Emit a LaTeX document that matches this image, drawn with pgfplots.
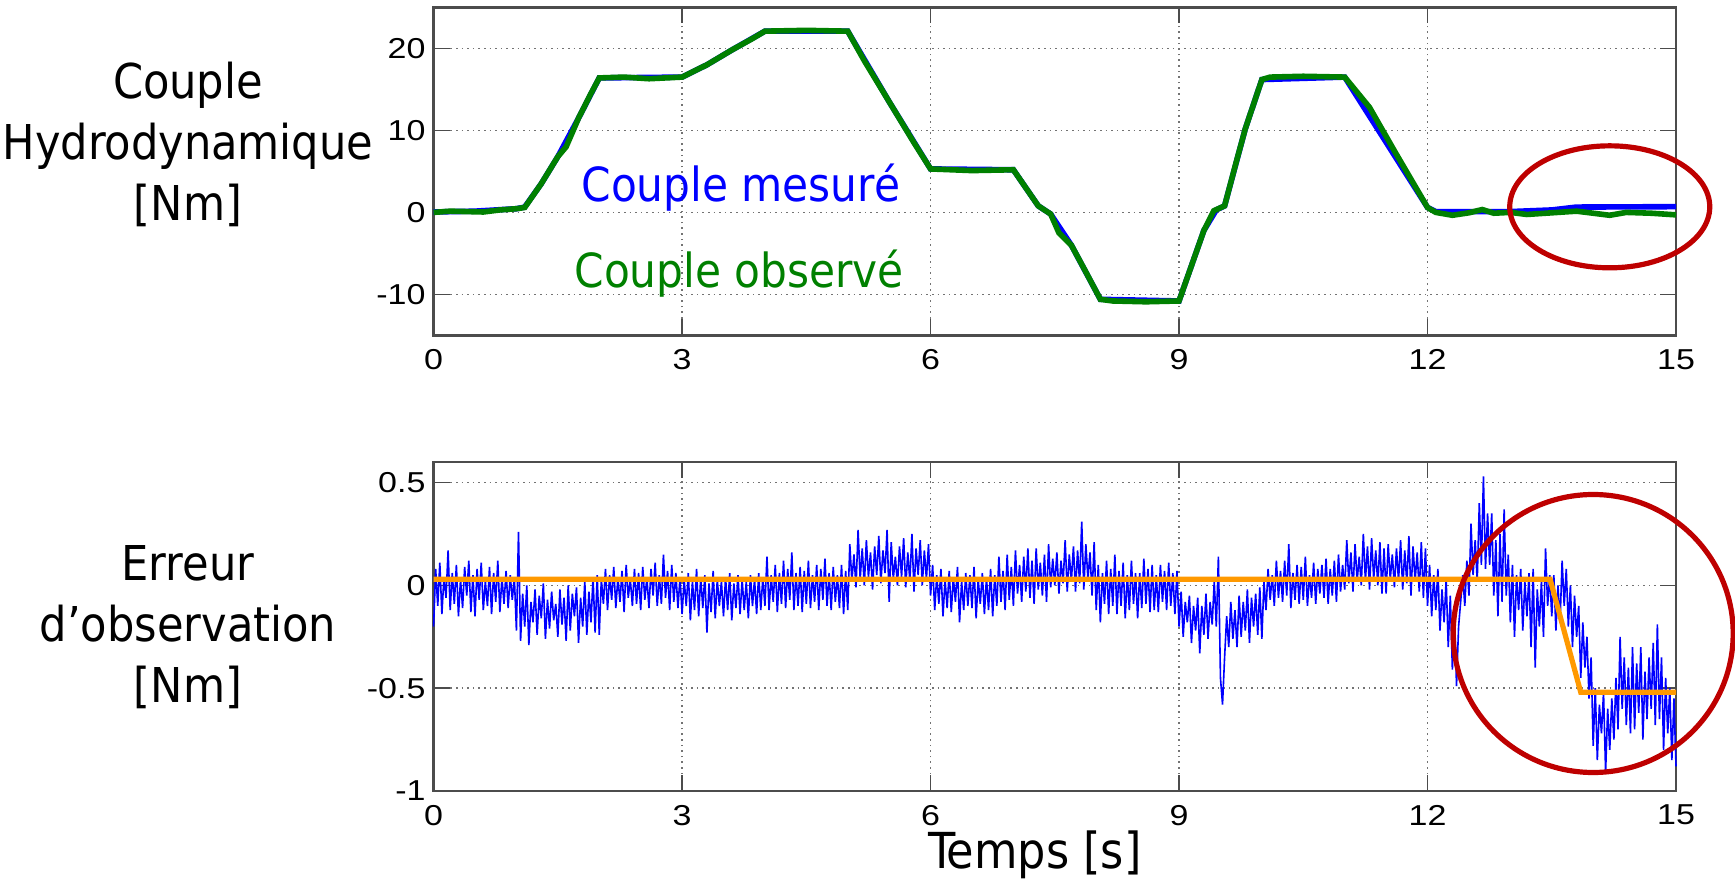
\documentclass[border=0pt]{standalone}
\usepackage{fontspec}
\setmainfont{DejaVu Sans Condensed}
\newfontfamily\ticksfont{Liberation Sans}
\usepackage{graphicx}
\usepackage{pgfplots}
\pgfplotsset{compat=1.18}

\definecolor{mblue}{RGB}{0,0,255}
\definecolor{mgreen}{RGB}{0,128,0}
\definecolor{morange}{RGB}{255,153,0}
\definecolor{mred}{RGB}{190,0,0}

\pgfplotsset{
  matlab/.style={
    scale only axis,
    width=310.6pt,
    xmin=0, xmax=15,
    xtick={0,3,6,9,12,15},
    grid=major,
    major grid style={densely dotted, black!55, line width=0.4pt},
    tick align=inside,
    major tick length=4pt,
    tick style={black!70, line width=0.4pt},
    axis line style={black!70, line width=0.6pt},
    tick label style={font=\fontsize{7.2}{9}\selectfont\ticksfont},
    xticklabel={\scalebox{1.18}[1]{\pgfmathprintnumber{\tick}}},
    yticklabel={\scalebox{1.18}[1]{\pgfmathprintnumber{\tick}}},
    yticklabel style={xshift=1.5pt},
    /pgf/number format/assume math mode=true,
    clip=false,
  }
}

\begin{document}
\begin{tikzpicture}
\path[use as bounding box] (0,0) rectangle (433.75pt,220.25pt);

\node[align=center, font=\fontsize{12}{15.25}\selectfont] at (47pt,184.25pt)
  {Couple\\Hydrodynamique\\{[Nm]}};
\node[align=center, font=\fontsize{12}{15.25}\selectfont] at (47pt,63.5pt)
  {Erreur\\d’observation\\{[Nm]}};

% couple hydrodynamique
\begin{axis}[matlab,
  at={(108.4pt,136.4pt)}, anchor=south west,
  height=82pt,
  ymin=-15, ymax=25,
  ytick={-10,0,10,20},
]
\addplot[mblue, line width=1.4pt] coordinates {
  (0,0.05) (0.5,0.15) (1.0,0.45) (1.1,0.65) (1.3,3.5) (1.5,6.8) (1.75,11.5)
  (2.0,16.4) (3.0,16.5) (3.3,18.0) (3.6,19.8) (4.0,22.1) (5.0,22.1)
  (5.5,13.5) (6.0,5.3) (7.0,5.2) (7.3,0.8) (7.45,-0.2) (7.7,-4.0)
  (8.05,-10.6) (9.0,-10.8) (9.3,-2.2) (9.45,0.3) (9.55,0.8) (9.8,10.2)
  (10.0,16.2) (11.0,16.5) (12.0,0.6) (12.1,0.1) (13.0,0.1) (13.5,0.3)
  (13.8,0.65) (15.0,0.7)
};
\addplot[mgreen, line width=1.4pt] coordinates {
  (0,0.0) (0.2,0.15) (0.4,0.1) (0.6,0.05) (0.8,0.3) (1.0,0.45) (1.1,0.6)
  (1.3,3.5) (1.5,6.8) (1.6,8.0) (1.75,11.5) (1.9,14.5) (2.0,16.4)
  (2.3,16.5) (2.6,16.3) (3.0,16.5) (3.3,18.0) (3.6,19.8) (3.85,21.2)
  (4.0,22.1) (4.5,22.2) (5.0,22.1) (5.2,18.5) (5.5,13.5) (5.8,8.5)
  (6.0,5.3) (6.5,5.1) (7.0,5.2) (7.15,3.0) (7.3,0.8) (7.45,-0.2)
  (7.55,-2.5) (7.7,-4.0) (7.85,-6.8) (8.05,-10.6) (8.2,-10.8)
  (8.6,-10.9) (9.0,-10.8) (9.15,-6.5) (9.3,-2.2) (9.42,0.2) (9.55,0.8)
  (9.7,6.5) (9.8,10.2) (10.0,16.2) (10.1,16.5) (10.5,16.6) (11.0,16.5)
  (11.3,12.8) (11.6,7.5) (12.0,0.6) (12.1,0.0) (12.3,-0.35) (12.5,-0.05)
  (12.66,0.35) (12.8,-0.1) (13.0,0.0) (13.2,-0.25) (13.5,-0.05)
  (13.8,0.15) (14.0,-0.1) (14.2,-0.35) (14.4,0.0) (14.7,-0.1) (15.0,-0.3)
};
\node[mblue, font=\fontsize{11.75}{14}\selectfont] at (axis cs:3.71,3.0) {Couple mesuré};
\node[mgreen, font=\fontsize{11.75}{14}\selectfont] at (axis cs:3.69,-7.5) {Couple observé};
\draw[mred, line width=1.3pt] (axis cs:14.2,0.68) ellipse [x radius=25pt, y radius=15.25pt];
\end{axis}

% erreur d'observation
\begin{axis}[matlab,
  at={(108.4pt,22.5pt)}, anchor=south west,
  height=82.25pt,
  ymin=-1, ymax=0.6,
  ytick={-1,-0.5,0,0.5},
  xlabel={Temps [s]},
  xlabel style={font=\fontsize{12.4}{14}\selectfont, at={(axis description cs:0.484,0)}, anchor=center, yshift=-16pt},
]
\addplot[mblue, line width=0.4pt] coordinates {
(0,-0.20)(0.025,0.08)(0.05,-0.10)(0.075,0.11)(0.1,-0.14)(0.125,0.04)(0.15,-0.06)(0.175,0.17)(0.2,-0.12)(0.225,0.06)
(0.25,-0.09)(0.275,0.10)(0.3,-0.15)(0.325,0.03)(0.35,-0.11)(0.375,0.09)(0.4,-0.05)(0.425,0.12)(0.45,-0.13)(0.475,0.05)
(0.5,-0.15)(0.525,0.08)(0.55,-0.07)(0.575,0.11)(0.6,-0.12)(0.625,0.02)(0.65,-0.10)(0.675,0.09)(0.7,-0.14)(0.725,0.06)
(0.75,-0.08)(0.775,0.12)(0.8,-0.13)(0.825,0.04)(0.85,-0.09)(0.875,0.07)(0.9,-0.11)(0.925,0.05)(0.95,-0.07)(0.975,0.04)
(1.0,-0.22)(1.025,0.26)(1.05,-0.27)(1.075,-0.04)(1.1,-0.20)(1.125,0.00)(1.15,-0.29)(1.175,-0.08)(1.2,-0.18)(1.225,-0.02)
(1.25,-0.24)(1.275,-0.05)(1.3,-0.16)(1.325,0.01)(1.35,-0.26)(1.375,-0.07)(1.4,-0.21)(1.425,-0.03)(1.45,-0.17)(1.475,-0.09)
(1.5,-0.25)(1.525,-0.02)(1.55,-0.19)(1.575,-0.06)(1.6,-0.27)(1.625,0.00)(1.65,-0.22)(1.675,-0.04)(1.7,-0.15)(1.725,-0.01)
(1.75,-0.28)(1.775,-0.06)(1.8,-0.20)(1.825,0.02)(1.85,-0.24)(1.875,-0.03)(1.9,-0.18)(1.925,0.04)(1.95,-0.23)(1.975,0.05)
(2.0,-0.24)(2.025,0.03)(2.05,-0.09)(2.075,0.08)(2.1,-0.12)(2.125,0.05)(2.15,-0.07)(2.175,0.09)(2.2,-0.11)(2.225,0.04)
(2.25,-0.08)(2.275,0.07)(2.3,-0.13)(2.325,0.10)(2.35,-0.06)(2.375,0.03)(2.4,-0.10)(2.425,0.08)(2.45,-0.09)(2.475,0.06)
(2.5,-0.12)(2.525,0.09)(2.55,-0.07)(2.575,0.04)(2.6,-0.11)(2.625,0.08)(2.65,-0.05)(2.675,0.11)(2.7,-0.10)(2.725,0.05)
(2.75,-0.09)(2.775,0.15)(2.8,-0.06)(2.825,0.07)(2.85,-0.12)(2.875,0.10)(2.9,-0.08)(2.925,0.06)(2.95,-0.11)(2.975,0.04)
(3.0,-0.14)(3.025,0.03)(3.05,-0.10)(3.075,0.06)(3.1,-0.17)(3.125,0.02)(3.15,-0.12)(3.175,0.08)(3.2,-0.15)(3.225,0.04)
(3.25,-0.11)(3.275,0.05)(3.3,-0.23)(3.325,0.01)(3.35,-0.13)(3.375,0.07)(3.4,-0.16)(3.425,0.03)(3.45,-0.10)(3.475,0.02)
(3.5,-0.15)(3.525,0.04)(3.55,-0.12)(3.575,0.06)(3.6,-0.17)(3.625,0.01)(3.65,-0.11)(3.675,0.05)(3.7,-0.14)(3.725,0.03)
(3.75,-0.12)(3.775,0.02)(3.8,-0.16)(3.825,0.05)(3.85,-0.10)(3.875,0.03)(3.9,-0.14)(3.925,0.06)(3.95,-0.12)(3.975,0.04)
(4.0,-0.10)(4.025,0.14)(4.05,-0.12)(4.075,0.05)(4.1,-0.08)(4.125,0.10)(4.15,-0.13)(4.175,0.06)(4.2,-0.09)(4.225,0.12)
(4.25,-0.11)(4.275,0.08)(4.3,-0.07)(4.325,0.16)(4.35,-0.12)(4.375,0.06)(4.4,-0.10)(4.425,0.09)(4.45,-0.13)(4.475,0.07)
(4.5,-0.09)(4.525,0.12)(4.55,-0.11)(4.575,0.05)(4.6,-0.08)(4.625,0.10)(4.65,-0.12)(4.675,0.08)(4.7,-0.07)(4.725,0.13)
(4.75,-0.10)(4.775,0.06)(4.8,-0.12)(4.825,0.09)(4.85,-0.08)(4.875,0.05)(4.9,-0.11)(4.925,0.10)(4.95,-0.14)(4.975,0.07)
(5.0,-0.12)(5.025,0.20)(5.05,0.02)(5.075,0.15)(5.1,-0.01)(5.125,0.27)(5.15,0.03)(5.175,0.18)(5.2,0.00)(5.225,0.22)
(5.25,0.04)(5.275,0.16)(5.3,-0.02)(5.325,0.19)(5.35,0.05)(5.375,0.24)(5.4,0.01)(5.425,0.17)(5.45,0.06)(5.475,0.27)
(5.5,-0.08)(5.525,0.21)(5.55,0.03)(5.575,0.14)(5.6,0.00)(5.625,0.19)(5.65,0.04)(5.675,0.23)(5.7,-0.01)(5.725,0.16)
(5.75,0.02)(5.775,0.25)(5.8,-0.03)(5.825,0.18)(5.85,0.05)(5.875,0.22)(5.9,0.00)(5.925,0.17)(5.95,0.03)(5.975,0.20)
(6.0,-0.05)(6.025,0.10)(6.05,-0.12)(6.075,0.05)(6.1,-0.09)(6.125,0.08)(6.15,-0.15)(6.175,0.03)(6.2,-0.11)(6.225,0.07)
(6.25,-0.13)(6.275,0.04)(6.3,-0.08)(6.325,0.09)(6.35,-0.18)(6.375,0.02)(6.4,-0.12)(6.425,0.06)(6.45,-0.10)(6.475,0.05)
(6.5,-0.11)(6.525,0.09)(6.55,-0.16)(6.575,0.03)(6.6,-0.09)(6.625,0.06)(6.65,-0.14)(6.675,0.04)(6.7,-0.12)(6.725,0.08)
(6.75,-0.15)(6.775,0.05)(6.8,-0.10)(6.825,0.14)(6.85,-0.08)(6.875,0.07)(6.9,-0.12)(6.925,0.15)(6.95,-0.07)(6.975,0.09)
(7.0,-0.10)(7.025,0.17)(7.05,-0.04)(7.075,0.10)(7.1,-0.08)(7.125,0.14)(7.15,-0.03)(7.175,0.18)(7.2,-0.06)(7.225,0.12)
(7.25,-0.09)(7.275,0.18)(7.3,-0.02)(7.325,0.11)(7.35,-0.05)(7.375,0.15)(7.4,-0.08)(7.425,0.20)(7.45,-0.01)(7.475,0.13)
(7.5,0.00)(7.525,0.16)(7.55,-0.04)(7.575,0.12)(7.6,0.01)(7.625,0.22)(7.65,-0.03)(7.675,0.15)(7.7,0.02)(7.725,0.19)
(7.75,-0.03)(7.775,0.17)(7.8,0.01)(7.825,0.31)(7.85,-0.02)(7.875,0.20)(7.9,0.03)(7.925,0.16)(7.95,-0.05)(7.975,0.21)
(8.0,-0.12)(8.025,0.10)(8.05,-0.18)(8.075,0.06)(8.1,-0.09)(8.125,0.12)(8.15,-0.14)(8.175,0.08)(8.2,-0.10)(8.225,0.15)
(8.25,-0.14)(8.275,0.07)(8.3,-0.10)(8.325,0.11)(8.35,-0.16)(8.375,0.05)(8.4,-0.12)(8.425,0.12)(8.45,-0.09)(8.475,0.06)
(8.5,-0.16)(8.525,0.06)(8.55,-0.11)(8.575,0.13)(8.6,-0.09)(8.625,0.08)(8.65,-0.13)(8.675,0.10)(8.7,-0.12)(8.725,0.05)
(8.75,-0.13)(8.775,0.10)(8.8,-0.08)(8.825,0.07)(8.85,-0.12)(8.875,0.11)(8.9,-0.10)(8.925,0.06)(8.95,-0.14)(8.975,0.07)
(9.0,-0.20)(9.025,-0.03)(9.05,-0.25)(9.075,-0.08)(9.1,-0.18)(9.125,-0.05)(9.15,-0.28)(9.175,-0.10)(9.2,-0.22)(9.225,-0.06)
(9.25,-0.33)(9.275,-0.10)(9.3,-0.24)(9.325,-0.04)(9.35,-0.26)(9.375,-0.08)(9.4,-0.19)(9.425,0.02)(9.45,-0.20)(9.475,0.14)
(9.5,-0.45)(9.525,-0.58)(9.55,-0.35)(9.575,-0.15)(9.6,-0.30)(9.625,-0.08)(9.65,-0.26)(9.675,-0.12)(9.7,-0.30)(9.725,-0.05)
(9.75,-0.25)(9.775,-0.08)(9.8,-0.22)(9.825,-0.02)(9.85,-0.28)(9.875,-0.06)(9.9,-0.20)(9.925,-0.04)(9.95,-0.24)(9.975,-0.01)
(10.0,-0.26)(10.025,0.02)(10.05,-0.12)(10.075,0.08)(10.1,-0.07)(10.125,0.05)(10.15,-0.10)(10.175,0.12)(10.2,-0.06)(10.225,0.07)
(10.25,-0.08)(10.275,0.12)(10.3,-0.05)(10.325,0.20)(10.35,-0.11)(10.375,0.06)(10.4,-0.07)(10.425,0.10)(10.45,-0.09)(10.475,0.09)
(10.5,-0.07)(10.525,0.14)(10.55,-0.10)(10.575,0.05)(10.6,-0.06)(10.625,0.11)(10.65,-0.09)(10.675,0.08)(10.7,-0.04)(10.725,0.10)
(10.75,-0.06)(10.775,0.13)(10.8,-0.09)(10.825,0.08)(10.85,-0.05)(10.875,0.12)(10.9,-0.08)(10.925,0.15)(10.95,-0.03)(10.975,0.10)
(11.0,-0.02)(11.025,0.22)(11.05,0.01)(11.075,0.16)(11.1,-0.03)(11.125,0.20)(11.15,0.02)(11.175,0.14)(11.2,0.00)(11.225,0.25)
(11.25,0.02)(11.275,0.19)(11.3,-0.02)(11.325,0.23)(11.35,0.03)(11.375,0.17)(11.4,0.00)(11.425,0.21)(11.45,-0.04)(11.475,0.18)
(11.5,-0.04)(11.525,0.20)(11.55,0.03)(11.575,0.15)(11.6,-0.01)(11.625,0.18)(11.65,0.02)(11.675,0.22)(11.7,-0.02)(11.725,0.17)
(11.75,0.01)(11.775,0.24)(11.8,-0.05)(11.825,0.19)(11.85,0.02)(11.875,0.16)(11.9,-0.03)(11.925,0.21)(11.95,-0.06)(11.975,0.18)
(12.0,-0.10)(12.025,0.10)(12.05,-0.15)(12.075,0.05)(12.1,-0.12)(12.125,0.08)(12.15,-0.22)(12.175,-0.02)(12.2,-0.18)(12.225,0.03)
(12.25,-0.30)(12.275,-0.05)(12.3,-0.41)(12.325,-0.12)(12.35,-0.49)(12.375,-0.20)(12.4,-0.08)(12.425,0.05)(12.45,-0.10)(12.475,0.12)
(12.5,-0.05)(12.525,0.30)(12.55,0.05)(12.575,0.22)(12.6,0.02)(12.625,0.40)(12.65,0.10)(12.675,0.53)(12.7,0.08)(12.725,0.35)
(12.75,0.10)(12.775,0.35)(12.8,-0.05)(12.825,0.22)(12.85,-0.15)(12.875,0.25)(12.9,-0.08)(12.925,0.37)(12.95,-0.05)(12.975,0.15)
(13.0,-0.18)(13.025,0.10)(13.05,-0.25)(13.075,0.05)(13.1,-0.12)(13.125,0.08)(13.15,-0.22)(13.175,0.02)(13.2,-0.15)(13.225,0.06)
(13.25,-0.30)(13.275,0.08)(13.3,-0.40)(13.325,-0.02)(13.35,-0.20)(13.375,0.02)(13.4,-0.25)(13.425,0.18)(13.45,-0.10)(13.475,0.05)
(13.5,-0.15)(13.525,0.05)(13.55,-0.22)(13.575,0.00)(13.6,-0.18)(13.625,0.12)(13.65,-0.10)(13.675,0.08)(13.7,-0.20)(13.725,0.00)
(13.75,-0.30)(13.775,-0.05)(13.8,-0.25)(13.825,-0.10)(13.85,-0.45)(13.875,-0.18)(13.9,-0.40)(13.925,-0.25)(13.95,-0.55)(13.975,-0.35)
(14.0,-0.78)(14.025,-0.50)(14.05,-0.85)(14.075,-0.58)(14.1,-0.72)(14.125,-0.52)(14.15,-0.91)(14.175,-0.60)(14.2,-0.80)(14.225,-0.55)
(14.25,-0.75)(14.275,-0.45)(14.3,-0.70)(14.325,-0.25)(14.35,-0.60)(14.375,-0.35)(14.4,-0.68)(14.425,-0.40)(14.45,-0.72)(14.475,-0.30)
(14.5,-0.70)(14.525,-0.38)(14.55,-0.62)(14.575,-0.30)(14.6,-0.75)(14.625,-0.42)(14.65,-0.65)(14.675,-0.35)(14.7,-0.60)(14.725,-0.28)
(14.75,-0.68)(14.775,-0.19)(14.8,-0.65)(14.825,-0.35)(14.85,-0.80)(14.875,-0.45)(14.9,-0.72)(14.925,-0.50)(14.95,-0.85)(14.975,-0.55)
(15.0,-0.88)
};
\addplot[morange, line width=1.3pt] coordinates {
  (0,0.03) (13.48,0.03) (13.85,-0.52) (15,-0.52)
};
\draw[mred, line width=1.3pt] (axis cs:14.0,-0.234) ellipse [x radius=35pt, y radius=34.75pt];
\end{axis}
\end{tikzpicture}
\end{document}
